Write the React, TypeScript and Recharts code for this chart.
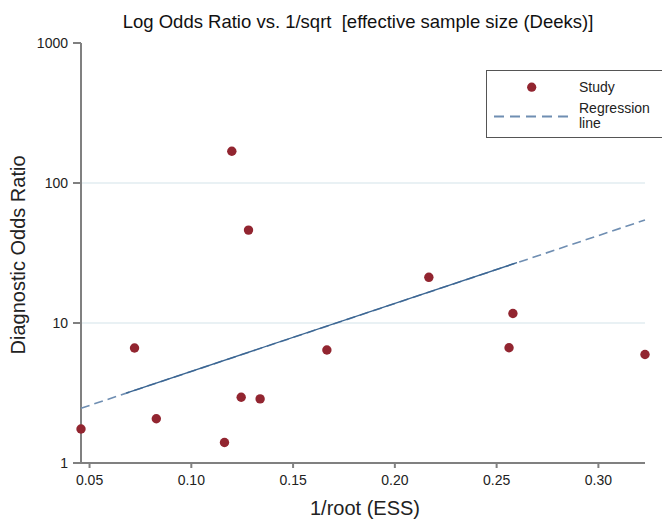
import { ScatterChart, Scatter, XAxis, YAxis, ReferenceLine, Label } from 'recharts'

// study points: 1/sqrt(ESS) vs diagnostic odds ratio
const studyEss = [0.0458, 0.0721, 0.0828, 0.1163, 0.1199, 0.1245, 0.1281, 0.1338, 0.1666, 0.2167, 0.2561, 0.258, 0.3229]
const studyDor = [1.75, 6.63, 2.07, 1.4, 168.6, 2.95, 46.1, 2.87, 6.41, 21.2, 6.66, 11.7, 5.96]

// regression line, dashed over its full length, solid through the middle
const regEss = [0.0458, 0.3229]
const regDor = [2.46, 54.4]
const regMidEss = [0.068, 0.26]
const regMidDor = [3.16, 27.0]

const xTicks = [0.05, 0.1, 0.15, 0.2, 0.25, 0.3]
const yTicks = [1, 10, 100, 1000]
const gridAt = [10, 100]

const FONT = 'Arial, "Liberation Sans", sans-serif'
const AXIS = '#808080'
const DOT = '#922530'
const DASH = '#6f8eb2'
const SOLID = '#3a6592'

const studies = studyEss.map((x, i) => ({ x, y: studyDor[i] }))
const regLine = regEss.map((x, i) => ({ x, y: regDor[i] }))
const regMid = regMidEss.map((x, i) => ({ x, y: regMidDor[i] }))

const noShape = () => <g />

export default function App() {
  return (
    <div style={{ position: 'absolute', left: 0, top: 0, width: 662, height: 519, overflow: 'hidden', background: '#fff', fontFamily: FONT }}>
      <div style={{ position: 'absolute', left: 358, top: 11, transform: 'translateX(-50%)', whiteSpace: 'pre', fontSize: 18.5, color: '#111', lineHeight: '22px' }}>
        {'Log Odds Ratio vs. 1/sqrt  [effective sample size (Deeks)]'}
      </div>
      <ScatterChart width={662} height={519} margin={{ top: 43, right: 17, bottom: 0, left: 0 }}>
        {gridAt.map((v) => (
          <ReferenceLine key={v} y={v} stroke="#e2edf0" strokeWidth={1.5} />
        ))}
        <XAxis
          type="number"
          dataKey="x"
          domain={[0.0458, 0.3229]}
          ticks={xTicks}
          tickFormatter={(v: number) => v.toFixed(2)}
          height={56}
          axisLine={{ stroke: AXIS, strokeWidth: 2 }}
          tickLine={{ stroke: AXIS, strokeWidth: 2 }}
          tickSize={5}
          tickMargin={7}
          tick={{ fontSize: 14, fill: '#222', fontFamily: FONT }}
        >
          <Label
            content={() => (
              <text x={365} y={515} textAnchor="middle" fontSize={20} fill="#222" fontFamily={FONT}>
                1/root (ESS)
              </text>
            )}
          />
        </XAxis>
        <YAxis
          type="number"
          dataKey="y"
          scale="log"
          domain={[1, 1000]}
          ticks={yTicks}
          width={81}
          axisLine={{ stroke: AXIS, strokeWidth: 2 }}
          tickLine={{ stroke: AXIS, strokeWidth: 2 }}
          tickSize={8}
          tickMargin={5}
          tick={{ fontSize: 14, fill: '#222', fontFamily: FONT }}
        >
          <Label
            content={() => (
              <text
                x={18}
                y={255}
                transform="rotate(-90 18 255)"
                textAnchor="middle"
                dominantBaseline="central"
                fontSize={20}
                fill="#222"
                fontFamily={FONT}
              >
                Diagnostic Odds Ratio
              </text>
            )}
          />
        </YAxis>
        <Scatter
          data={regLine}
          line={{ stroke: DASH, strokeWidth: 1.6, strokeDasharray: '9 5' }}
          shape={noShape}
          isAnimationActive={false}
        />
        <Scatter
          data={regMid}
          line={{ stroke: SOLID, strokeWidth: 1.4 }}
          shape={noShape}
          isAnimationActive={false}
        />
        <Scatter
          data={studies}
          fill={DOT}
          isAnimationActive={false}
          shape={(p: any) => <circle cx={p.cx} cy={p.cy} r={4.7} fill={DOT} />}
        />
      </ScatterChart>
      <div style={{ position: 'absolute', left: 486, top: 70, width: 190, height: 66, border: '1.5px solid #555', background: '#fff', fontSize: 14, color: '#222' }}>
        <svg width={90} height={66} style={{ position: 'absolute', left: 0, top: 0 }}>
          <circle cx={44.7} cy={16.2} r={4.6} fill={DOT} />
          <line x1={7} y1={45.5} x2={81} y2={45.5} stroke={DASH} strokeWidth={2} strokeDasharray="10 6" />
        </svg>
        <div style={{ position: 'absolute', left: 92, top: 8, lineHeight: '16px' }}>Study</div>
        <div style={{ position: 'absolute', left: 92, top: 30, lineHeight: '15px' }}>
          Regression
          <br />
          line
        </div>
      </div>
    </div>
  )
}
